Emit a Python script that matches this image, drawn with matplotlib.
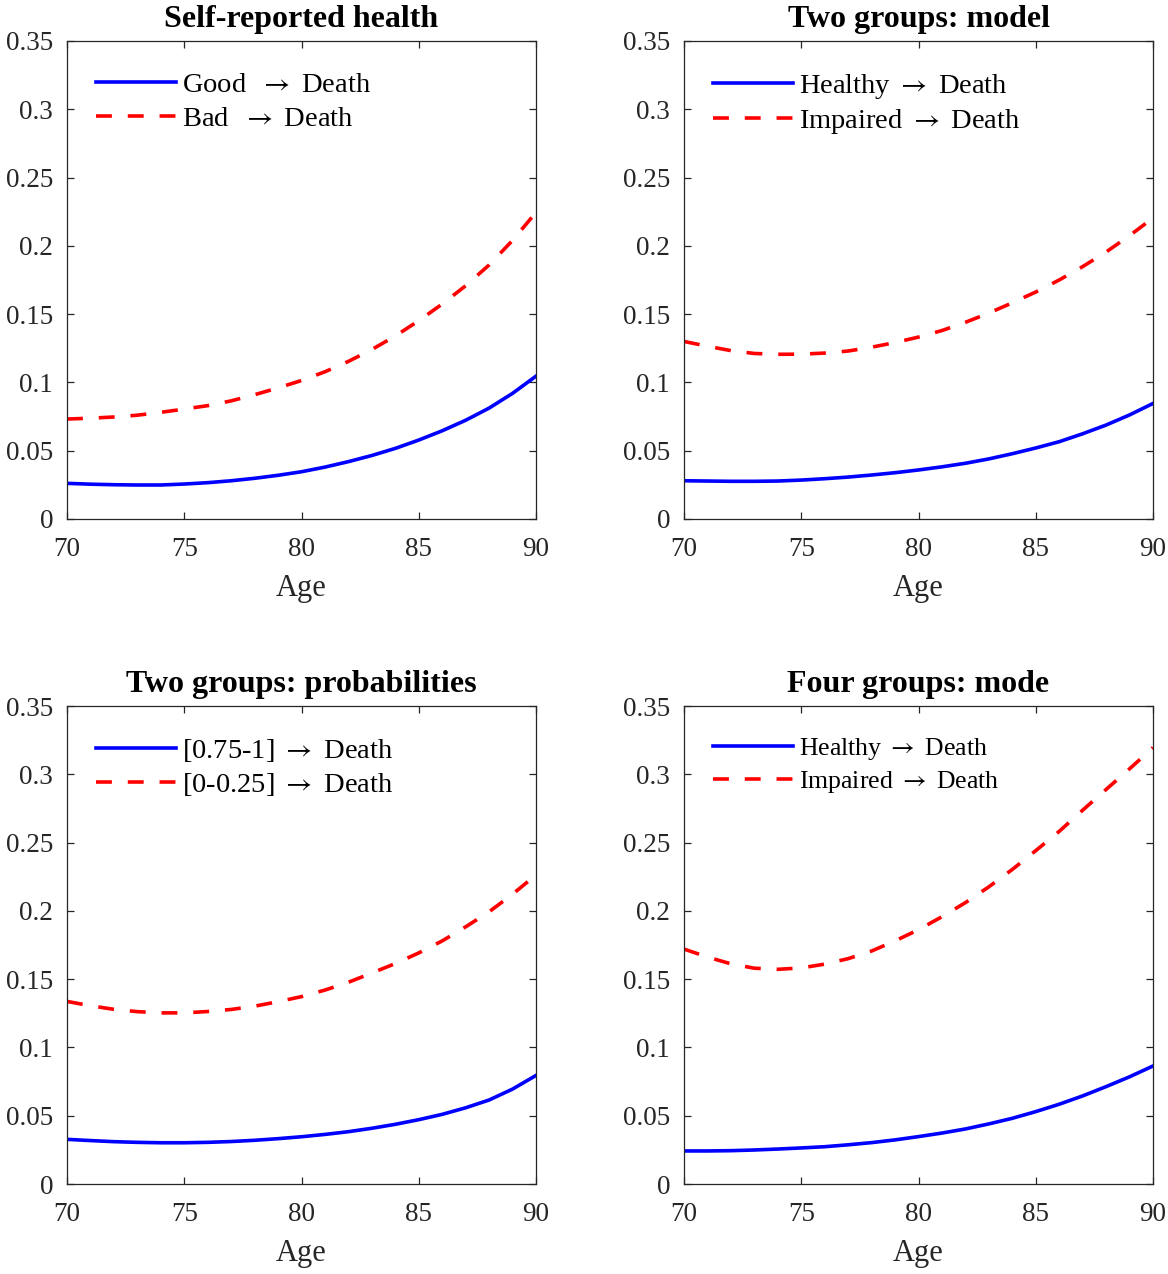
import matplotlib
matplotlib.use("Agg")
import matplotlib.pyplot as plt

plt.rcParams['font.family'] = ['Liberation Serif', 'DejaVu Serif']
plt.rcParams['mathtext.fontset'] = 'stix'

ages = list(range(70, 91))

titles = ["Self-reported health", "Two groups: model",
          "Two groups: probabilities", "Four groups: mode"]

labels_blue = ["Good  $\\rightarrow$ Death", "Healthy $\\rightarrow$ Death",
               "[0.75-1] $\\rightarrow$ Death", "Healthy $\\rightarrow$ Death"]
labels_red = ["Bad  $\\rightarrow$ Death", "Impaired $\\rightarrow$ Death",
              "[0-0.25] $\\rightarrow$ Death", "Impaired $\\rightarrow$ Death"]

good_death = [0.0261, 0.0255, 0.0251, 0.0249, 0.0249, 0.0256, 0.0266, 0.0280, 0.0298, 0.0320,
              0.0346, 0.0380, 0.0420, 0.0465, 0.0517, 0.0578, 0.0646, 0.0723, 0.0812, 0.0920, 0.1046]
bad_death = [0.0732, 0.0738, 0.0747, 0.0760, 0.0781, 0.0805, 0.0830, 0.0865, 0.0910, 0.0960,
             0.1014, 0.1078, 0.1154, 0.1241, 0.1340, 0.1452, 0.1574, 0.1708, 0.1860, 0.2040, 0.2245]

model_healthy = [0.0280, 0.0278, 0.0276, 0.0276, 0.0278, 0.0285, 0.0295, 0.0307, 0.0322, 0.0339,
                 0.0359, 0.0382, 0.0408, 0.0440, 0.0478, 0.0520, 0.0566, 0.0624, 0.0688, 0.0762, 0.0846]
model_impaired = [0.1300, 0.1265, 0.1233, 0.1212, 0.1206, 0.1207, 0.1215, 0.1230, 0.1258, 0.1292,
                  0.1332, 0.1380, 0.1440, 0.1508, 0.1583, 0.1662, 0.1750, 0.1848, 0.1955, 0.2075, 0.2204]

prob_high = [0.0327, 0.0318, 0.0310, 0.0305, 0.0302, 0.0302, 0.0305, 0.0311, 0.0320, 0.0332,
             0.0346, 0.0363, 0.0383, 0.0408, 0.0437, 0.0471, 0.0510, 0.0558, 0.0615, 0.0695, 0.0795]
prob_low = [0.1337, 0.1305, 0.1279, 0.1262, 0.1253, 0.1253, 0.1263, 0.1278, 0.1302, 0.1335,
            0.1372, 0.1420, 0.1477, 0.1545, 0.1614, 0.1692, 0.1780, 0.1883, 0.1993, 0.2122, 0.2263]

mode_healthy = [0.0242, 0.0242, 0.0244, 0.0249, 0.0256, 0.0264, 0.0273, 0.0287, 0.0303, 0.0323,
                0.0347, 0.0373, 0.0403, 0.0440, 0.0481, 0.0530, 0.0584, 0.0645, 0.0713, 0.0785, 0.0864]
mode_impaired = [0.1720, 0.1662, 0.1612, 0.1580, 0.1572, 0.1582, 0.1610, 0.1650, 0.1706, 0.1780,
                 0.1862, 0.1957, 0.2060, 0.2176, 0.2303, 0.2441, 0.2582, 0.2737, 0.2889, 0.3040, 0.3195]

blue_series = [good_death, model_healthy, prob_high, mode_healthy]
red_series = [bad_death, model_impaired, prob_low, mode_impaired]

yticks = [0, 0.05, 0.1, 0.15, 0.2, 0.25, 0.3, 0.35]
ytick_labels = ["0", "0.05", "0.1", "0.15", "0.2", "0.25", "0.3", "0.35"]
xticks = [70, 75, 80, 85, 90]
xtick_labels = ["70", "75", "80", "85", "90"]

W, H = 1168, 1274
fig = plt.figure(figsize=(W / 100, H / 100), dpi=100)

lefts = [67, 684, 67, 684]
tops = [41, 41, 706, 706]
aw, ah = 469, 478
legend_sizes = [20.5, 20.5, 20.5, 18.5]
legend_handlelen = [2.81, 2.81, 2.81, 3.11]
legend_top = [0.935, 0.936, 0.935, 0.938]
legend_spacing = [0.27, 0.22, 0.24, 0.29]
axcol = '#262626'

for i in range(4):
    ax = fig.add_axes([lefts[i] / W, 1 - (tops[i] + ah) / H, aw / W, ah / H])
    ax.plot(ages, blue_series[i], color=(0, 0, 1), lw=2.6, label=labels_blue[i],
            solid_joinstyle='round')
    ax.plot(ages, red_series[i], color=(1, 0, 0), lw=2.6, dashes=(4.4, 4.4),
            label=labels_red[i])
    ax.set_xlim(70, 90)
    ax.set_ylim(0, 0.35)
    ax.set_xticks(xticks)
    ax.set_xticklabels(xtick_labels)
    ax.set_yticks(yticks)
    ax.set_yticklabels(ytick_labels)
    ax.tick_params(direction='in', length=5, width=0.9, top=True, right=True,
                   labelsize=19.5, colors=axcol, labelcolor=axcol)
    ax.tick_params(axis='x', pad=13)
    ax.tick_params(axis='y', pad=10)
    for s in ax.spines.values():
        s.set_linewidth(0.9)
        s.set_color(axcol)
    ax.set_xlabel("Age", fontsize=22, color=axcol, labelpad=8.5)
    ax.set_title(titles[i], fontsize=23, fontweight='bold', pad=10)
    ax.legend(loc='upper left', frameon=False, fontsize=legend_sizes[i],
              handlelength=legend_handlelen[i], handletextpad=0.22,
              borderaxespad=0, borderpad=0, labelspacing=legend_spacing[i],
              bbox_to_anchor=(29 / aw, legend_top[i]))

fig.savefig("out.png", dpi=100)
